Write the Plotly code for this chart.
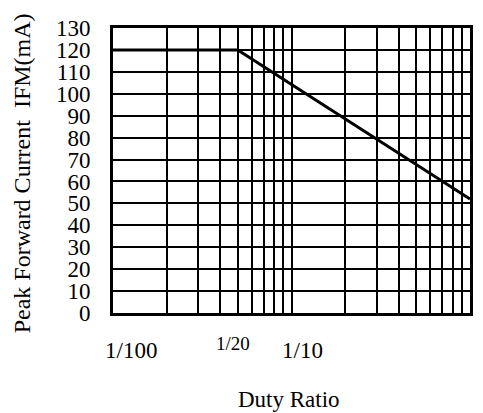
import math
import plotly.graph_objects as go

# Data
duty_ratio = [0.01, 0.05, 1.0]
peak_current = [120, 120, 52]

x_grid_vals = [0.01, 0.02, 0.03, 0.04, 0.05, 0.06, 0.07, 0.08, 0.09,
               0.1, 0.2, 0.3, 0.4, 0.5, 0.6, 0.7, 0.8, 0.9, 1.0]
x_label_vals = [0.01, 0.05, 0.1, 1.0]
x_label_text = ["1/100", "1/20", "1/10", "1"]
y_tick_vals = [0, 10, 20, 30, 40, 50, 60, 70, 80, 90, 100, 110, 120, 130]

# Styling for the x labels (pixel shifts and sizes)
x_label_xshift = [18, -5, 11, 11]
x_label_yshift = [-37, -30, -37, -37]
x_label_size = [23, 19, 23, 23]

FONT = "Liberation Serif, Times New Roman, serif"

fig = go.Figure()
fig.add_trace(go.Scatter(
    x=duty_ratio, y=peak_current, mode="lines",
    line=dict(color="black", width=3), showlegend=False, hoverinfo="skip"))

annotations = []
for v, t, xs, ys, sz in zip(x_label_vals, x_label_text, x_label_xshift, x_label_yshift, x_label_size):
    annotations.append(dict(
        x=math.log10(v), xref="x", y=0, yref="paper", text=t, showarrow=False,
        xanchor="center", yanchor="middle", xshift=xs, yshift=ys,
        font=dict(family=FONT, size=sz, color="black")))

annotations.append(dict(
    x=0.5, xref="paper", y=0, yref="paper", text="Duty Ratio", showarrow=False,
    xanchor="center", yanchor="middle", yshift=-86, xshift=-3,
    font=dict(family=FONT, size=23, color="black")))

annotations.append(dict(
    x=0, xref="paper", y=0.49, yref="paper",
    text="Peak Forward Current&nbsp; IFM(mA)", showarrow=False, textangle=-90,
    xanchor="center", yanchor="middle", xshift=-91,
    font=dict(family=FONT, size=24, color="black")))

# The page adds an 8px body margin, so the figure is 8px smaller and margins compensate
fig.update_layout(
    width=475, height=405,
    margin=dict(l=105, r=13, t=20, b=100),
    paper_bgcolor="white", plot_bgcolor="white",
    font=dict(family=FONT, color="black"),
    annotations=annotations,
    xaxis=dict(
        type="log", range=[-2, 0], tickvals=x_grid_vals, showticklabels=False,
        showgrid=True, gridcolor="black", gridwidth=1.5,
        showline=True, linecolor="black", linewidth=3, mirror=True,
        ticks="", zeroline=False, fixedrange=True),
    yaxis=dict(
        range=[0, 130], tickvals=y_tick_vals,
        showgrid=True, gridcolor="black", gridwidth=1.5,
        showline=True, linecolor="black", linewidth=3, mirror=True,
        ticks="outside", ticklen=15, tickcolor="rgba(0,0,0,0)",
        tickfont=dict(family=FONT, size=23, color="black"),
        zeroline=False, fixedrange=True, automargin=False),
)

fig.write_html("out.html")
